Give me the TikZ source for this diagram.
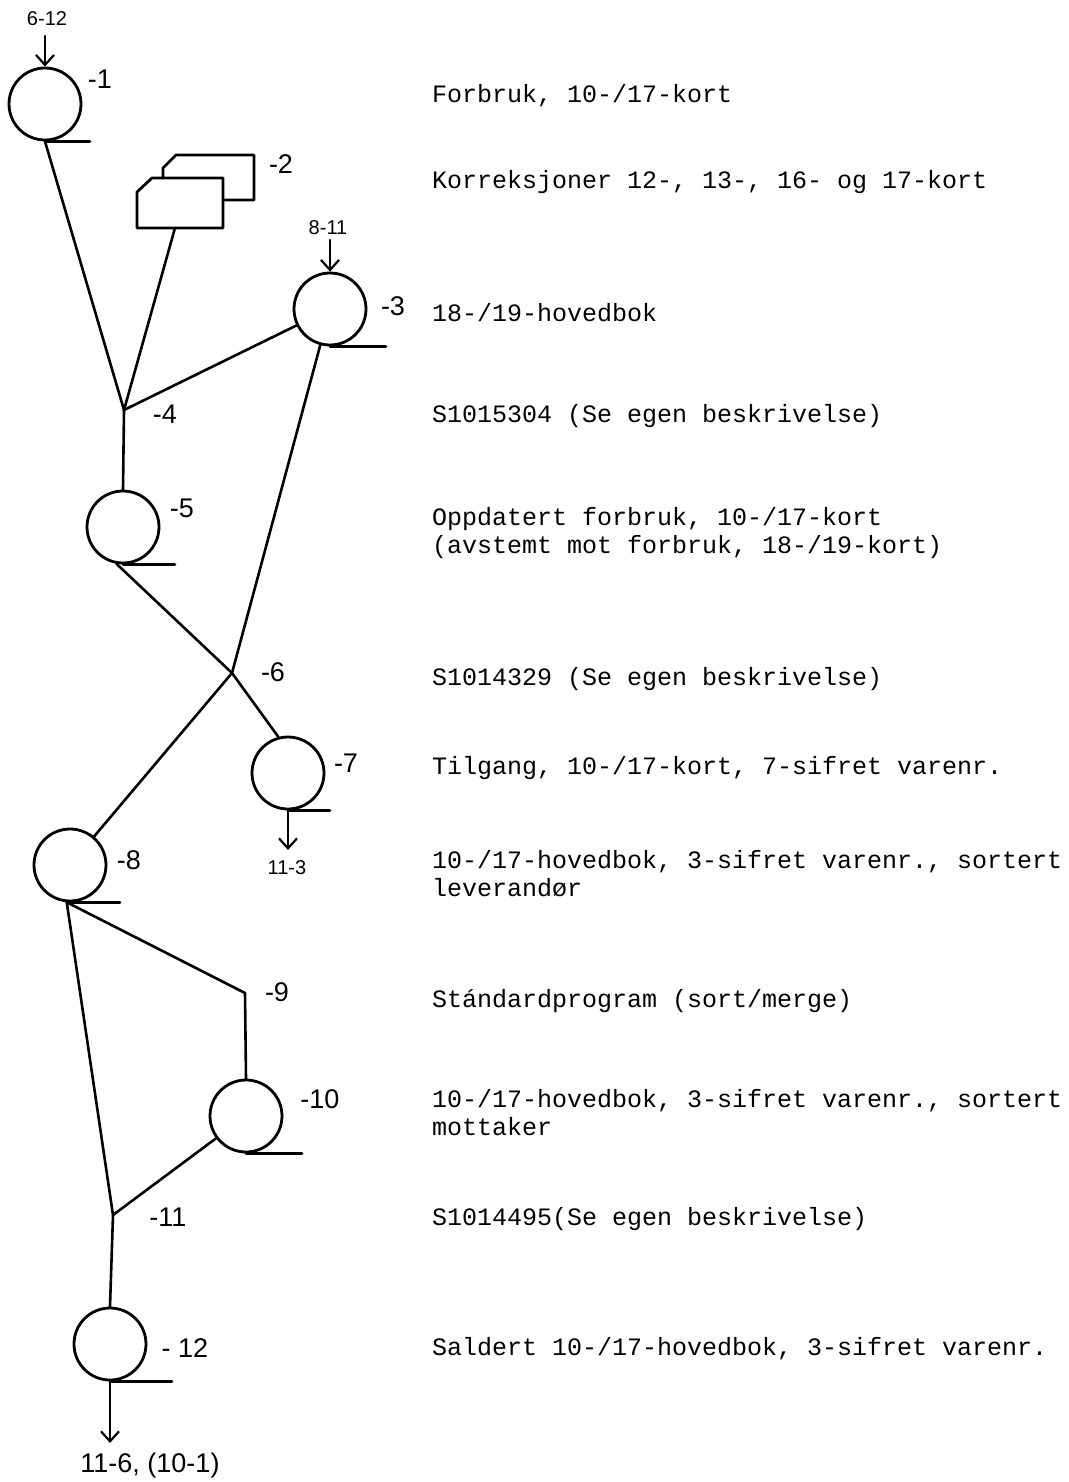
\documentclass[tikz,border=0pt]{standalone}
\usepackage{fontspec}
\setmonofont{Liberation Mono}
\newfontfamily\handfont{Liberation Sans}
\usetikzlibrary{arrows.meta}
\begin{document}
\begin{tikzpicture}[x=1pt,y=-1pt,
  line cap=round, line join=round,
  tape/.style={circle,draw,line width=2.8pt,minimum size=72pt,inner sep=0pt},
  desc/.style={anchor=base west,font=\fontsize{25}{28}\selectfont\ttfamily,inner sep=0pt},
  num/.style={font=\fontsize{27}{30}\selectfont\handfont,inner sep=0pt},
  smallnum/.style={font=\fontsize{20}{22}\selectfont\handfont,inner sep=0pt},
  flow/.style={-{Straight Barb[length=10pt,width=18pt,line width=2.2pt]},line width=2.2pt},
  conn/.style={line width=2.6pt},
  tapeline/.style={line width=2.8pt}]
\useasboundingbox (0,0) rectangle (1068,1482);

% tapes
\node[tape] (c1) at (45,104) {};
\node[tape] (c3) at (330,309) {};
\node[tape] (c5) at (123,527) {};
\node[tape] (c7) at (288,773) {};
\node[tape] (c8) at (70,865) {};
\node[tape] (c10) at (246,1116) {};
\node[tape] (c12) at (110,1344) {};

% tape lines
\draw[tapeline] (c1.south) -- ++(45,0);
\draw[tapeline] (c3.south) -- ++(56,0);
\draw[tapeline] (c5.south) -- ++(52,0);
\draw[tapeline] (c7.south) -- ++(42,0);
\draw[tapeline] (c8.south) -- ++(50,0);
\draw[tapeline] (c10.south) -- ++(56,0);
\draw[tapeline] (c12.south) -- ++(62,0);

% cards
\draw[line width=2.8pt] (163,178) -- (163,168) -- (176,155) -- (254,155) -- (254,200) -- (223,200);
\draw[line width=2.8pt] (137,192) -- (152,178) -- (223,178) -- (223,228) -- (137,228) -- cycle;
\coordinate (card) at (175,228);

% junctions
\coordinate (j4) at (124,410);
\coordinate (j6) at (232,673);
\coordinate (j9) at (245,993);
\coordinate (j11) at (113,1215);

% free arrow ends
\coordinate (in1) at (45,36);
\coordinate (in3) at (330,240);
\coordinate (out7) at (288,850);
\coordinate (out12) at (110,1443);

% connectors
\draw[conn] (c1.south) -- (j4);
\draw[conn] (card) -- (j4);
\draw[conn] (c3) -- (j4);
\draw[conn] (j4) -- (c5.north);
\draw[conn] (c5.-100) -- (j6);
\draw[conn] (c3) -- (j6);
\draw[conn] (j6) -- (c7.105);
\draw[conn] (j6) -- (c8);
\draw[conn] (c8.-95) -- (j9);
\draw[conn] (j9) -- (c10.north);
\draw[conn] (c8.-95) -- (j11);
\draw[conn] (c10) -- (j11);
\draw[conn] (j11) -- (c12.north);

\draw[flow] (in1) -- (c1.north);
\draw[flow] (in3) -- (c3.north);
\draw[flow] (c7.south) -- (out7);
\draw[flow] (c12.south) -- (out12);

% handwritten labels
\node[smallnum] (l612) at (47,19) {6-12};
\node[num] (l1) at (100,79) {-1};
\node[num] (l2) at (281,164) {-2};
\node[smallnum] (l811) at (328,228) {8-11};
\node[num] (l3) at (393,306) {-3};
\node[num] (l4) at (165,414) {-4};
\node[num] (l5) at (182,508) {-5};
\node[num] (l6) at (273,672) {-6};
\node[num] (l7) at (346,763) {-7};
\node[smallnum] (l113) at (287,868) {11-3};
\node[num] (l8) at (129,860) {-8};
\node[num] (l9) at (277,992) {-9};
\node[num] (l10) at (320,1099) {-10};
\node[num] (l11) at (168,1217) {-11};
\node[num] (l12) at (185,1348) {- 12};
\node[num] (lout) at (150,1465) {11-6, (10-1)};

% descriptions
\node[desc] (d1) at (432,103) {Forbruk, 10-/17-kort};
\node[desc] (d2) at (432,189) {Korreksjoner 12-, 13-, 16- og 17-kort};
\node[desc] (d3) at (432,321) {18-/19-hovedbok};
\node[desc] (d4) at (432,422) {S1015304 (Se egen beskrivelse)};
\node[desc] (d5a) at (432,525) {Oppdatert forbruk, 10-/17-kort};
\node[desc] (d5b) at (432,553) {(avstemt mot forbruk, 18-/19-kort)};
\node[desc] (d6) at (432,685) {S1014329 (Se egen beskrivelse)};
\node[desc] (d7) at (432,774) {Tilgang, 10-/17-kort, 7-sifret varenr.};
\node[desc] (d8a) at (432,868) {10-/17-hovedbok, 3-sifret varenr., sortert};
\node[desc] (d8b) at (432,896) {leverandør};
\node[desc] (d9) at (432,1007) {Stándardprogram (sort/merge)};
\node[desc] (d10a) at (432,1107) {10-/17-hovedbok, 3-sifret varenr., sortert};
\node[desc] (d10b) at (432,1135) {mottaker};
\node[desc] (d11) at (432,1225) {S1014495(Se egen beskrivelse)};
\node[desc] (d12) at (432,1355) {Saldert 10-/17-hovedbok, 3-sifret varenr.};
\end{tikzpicture}
\end{document}
